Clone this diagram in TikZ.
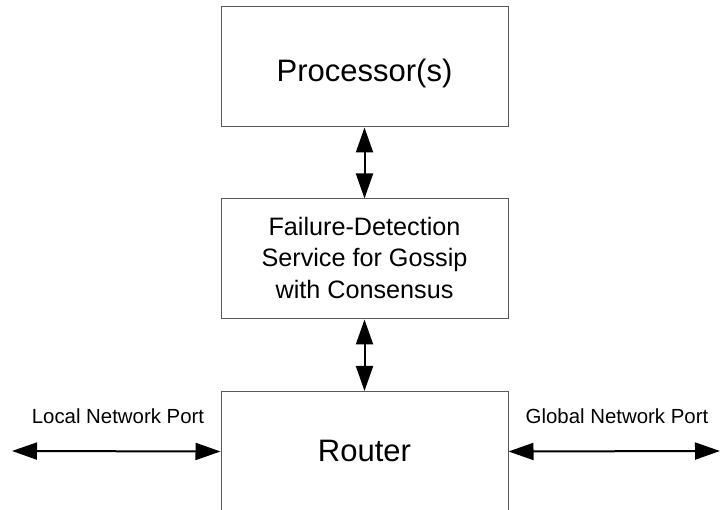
\documentclass[tikz,border=0pt]{standalone}
\usepackage{fontspec}
\setmainfont{Liberation Sans}
\usetikzlibrary{arrows.meta}
\tikzset{
  block/.style={draw=black!65, line width=1pt, minimum width=287pt, minimum height=120pt, inner sep=0pt},
  biarrow/.style={line width=2pt, {Triangle[length=25pt,width=17pt]}-{Triangle[length=25pt,width=17pt]}},
  bigtext/.style={anchor=base, inner sep=0pt, font=\fontsize{31}{37}\selectfont},
  midtext/.style={anchor=base, inner sep=0pt, align=center, font=\fontsize{25.2}{31.3}\selectfont},
  porttext/.style={anchor=base, inner sep=0pt, font=\fontsize{20.4}{24}\selectfont}
}
\begin{document}
\begin{tikzpicture}[x=1pt,y=-1pt]
  \useasboundingbox (0,0) rectangle (720,510);
  \clip (0,0) rectangle (720,510);

  % blocks
  \node[block] (proc)   at (364.5,67)  {};
  \node[block] (fd)     at (364.5,259) {};
  \node[block] (router) at (364.5,451.5) {};

  % block captions (the three-line caption is placed by its last baseline)
  \node[bigtext] (proclabel)   at (364.5,81.7) {Processor(s)};
  \node[midtext] (fdlabel)     at (364.5,298.3) {Failure-Detection\\Service for Gossip\\with Consensus};
  \node[bigtext] (routerlabel) at (364.5,461)  {Router};

  % port labels
  \node[porttext] (localport)  at (118,423) {Local Network Port};
  \node[porttext] (globalport) at (617,423) {Global Network Port};

  % free ends of the port links
  \coordinate (lend) at (12,451);
  \coordinate (gend) at (720,451);

  % connectors
  \draw[biarrow] (proc.south) -- (fd.north);
  \draw[biarrow] (fd.south) -- (router.north);
  \draw[biarrow] (lend) -- (router.west);
  \draw[biarrow] (router.east) -- (gend);
\end{tikzpicture}
\end{document}
